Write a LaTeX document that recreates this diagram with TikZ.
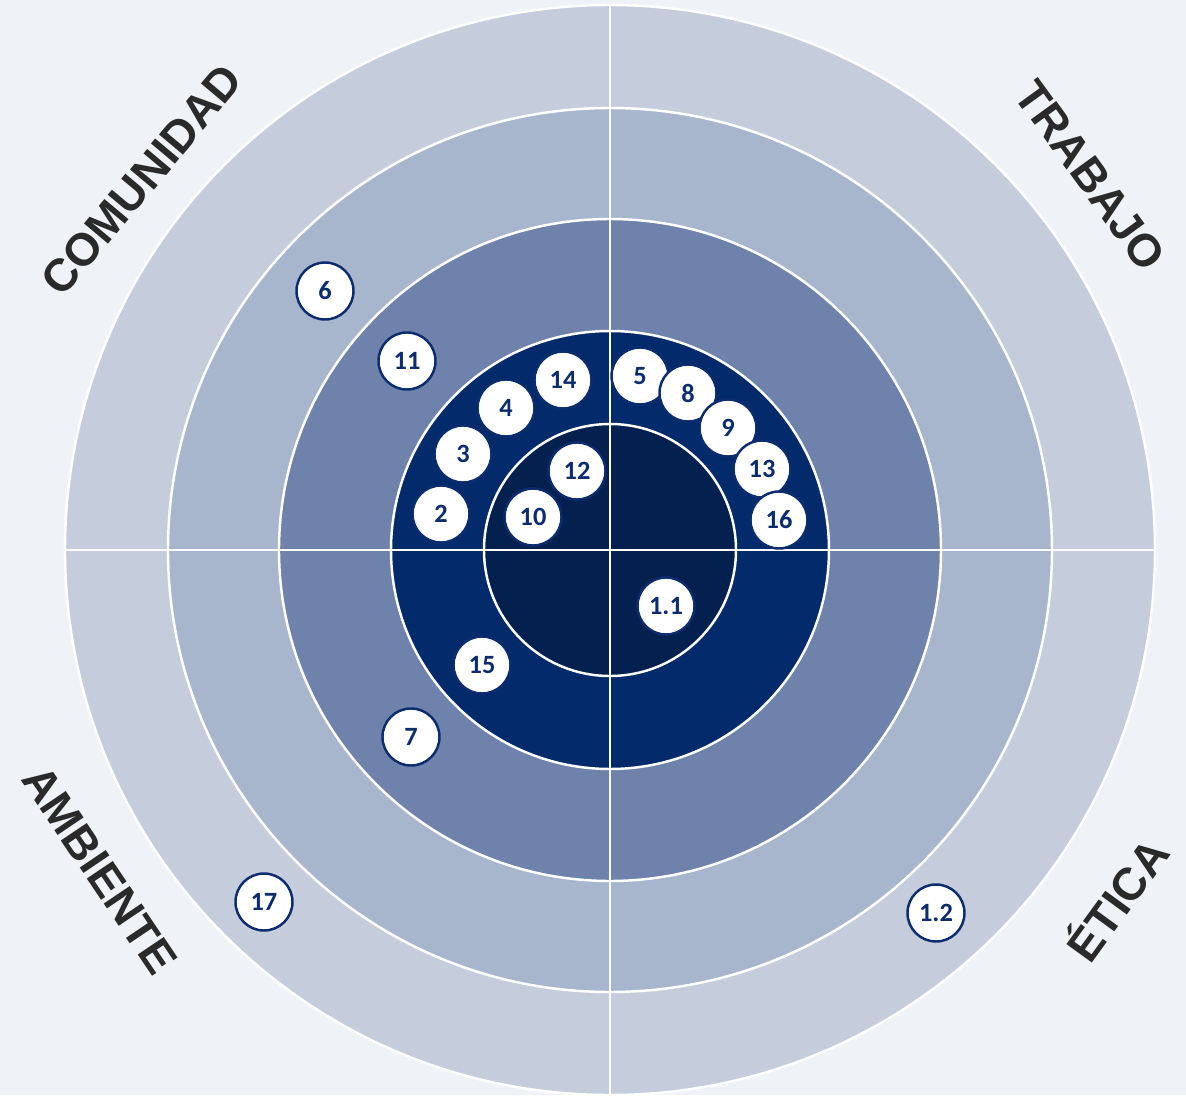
\documentclass[tikz,border=0pt]{standalone}
\usepackage{fontspec}
\setmainfont{Liberation Sans}
\newfontfamily\numfont{Carlito}
\usetikzlibrary{positioning}
\usepackage{xcolor}
\definecolor{bgpage}{HTML}{EFF3F8}
\definecolor{ringa}{HTML}{C5CDDD}
\definecolor{ringb}{HTML}{A8B6CD}
\definecolor{ringc}{HTML}{6F82AB}
\definecolor{ringd}{HTML}{032A6B}
\definecolor{core}{HTML}{03204F}
\definecolor{numblue}{HTML}{0B2C6E}
\definecolor{labelgray}{HTML}{2A2A2A}

\begin{document}
\begin{tikzpicture}[
    ring/.style={draw=white, line width=1.4pt},
    num/.style={circle, draw=numblue, line width=1.4pt, fill=white, minimum size=1.14cm, inner sep=0pt, font=\numfont\bfseries\fontsize{15}{15}\selectfont, text=numblue},
    sector/.style={font=\bfseries\fontsize{26}{26}\selectfont, text=labelgray, inner sep=0pt, text height=0.72em, text depth=0pt}
]

% Page background and margins
\useasboundingbox (-12.2,-10.9) rectangle (11.52,11.0);
\fill[bgpage] (-12.2,-10.9) rectangle (11.52,11.0);

% Rings - from outside to inside
\filldraw[ring, fill=ringa] (0,0) circle (10.9);
\filldraw[ring, fill=ringb] (0,0) circle (8.84);
\filldraw[ring, fill=ringc] (0,0) circle (6.62);
\filldraw[ring, fill=ringd] (0,0) circle (4.38);
\filldraw[ring, fill=core] (0,0) circle (2.52);

% Quadrant lines
\coordinate (west) at (-10.9,0);
\coordinate (east) at (10.9,0);
\coordinate (north) at (0,10.9);
\coordinate (south) at (0,-10.9);
\draw[ring] (west) -- (east);
\draw[ring] (north) -- (south);

% Quadrant names
\node[sector, rotate=50] (comunidad) at (-9.22,7.28) {COMUNIDAD};
\node[sector, rotate=-54] (trabajo) at (9.46,7.38) {TRABAJO};
\node[sector, rotate=-56] (ambiente) at (-10.36,-6.50) {AMBIENTE};
\node[sector, rotate=54] (etica) at (10.32,-7.12) {ÉTICA};

% Upper left quadrant
\node[num] (n6) at (-5.70,5.18) {6};
\node[num] (n11) at (-4.06,3.78) {11};
\node[num] (n14) at (-0.94,3.40) {14};
\node[num] (n4) at (-2.08,2.84) {4};
\node[num] (n3) at (-2.94,1.92) {3};
\node[num] (n2) at (-3.38,0.72) {2};
\node[num] (n12) at (-0.66,1.58) {12};
\node[num] (n10) at (-1.54,0.66) {10};

% Upper right quadrant
\node[num] (n5) at (0.60,3.48) {5};
\node[num] (n8) at (1.56,3.14) {8};
\node[num] (n9) at (2.36,2.44) {9};
\node[num] (n13) at (3.04,1.62) {13};
\node[num] (n16) at (3.38,0.60) {16};

% Lower half
\node[num] (n11b) at (1.12,-1.12) {1.1};
\node[num] (n15) at (-2.56,-2.30) {15};
\node[num] (n7) at (-3.98,-3.74) {7};
\node[num] (n17) at (-6.92,-7.04) {17};
\node[num] (n12b) at (6.52,-7.26) {1.2};

\end{tikzpicture}
\end{document}
